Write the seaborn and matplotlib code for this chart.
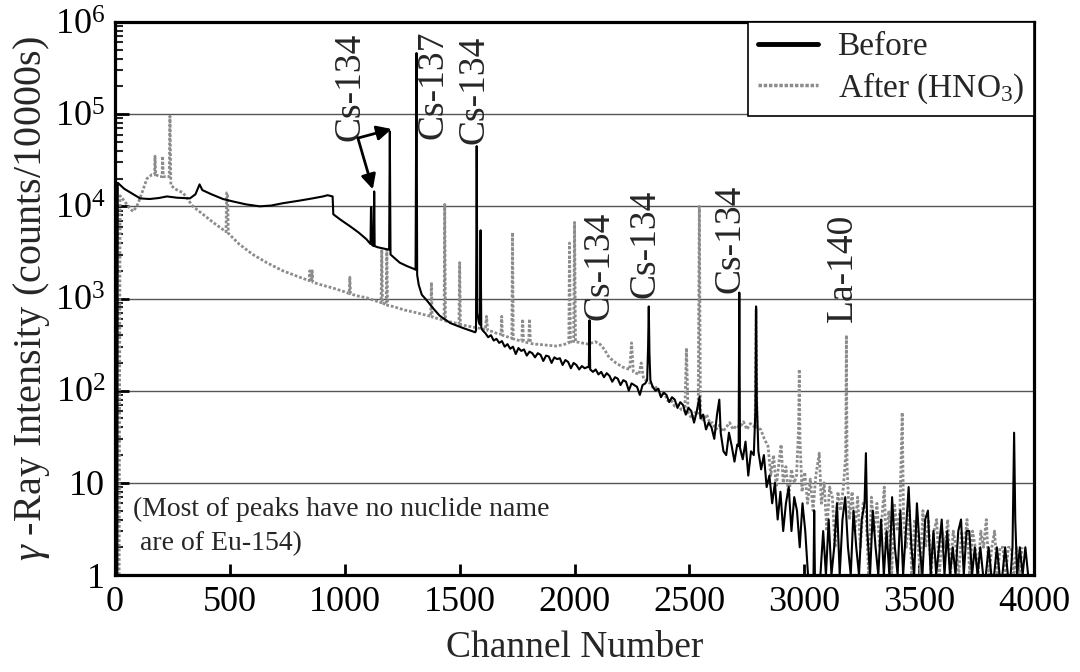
import matplotlib
matplotlib.use("Agg")
import numpy as np
import pandas as pd
import matplotlib.pyplot as plt
import seaborn as sns
from matplotlib.lines import Line2D
from matplotlib.ticker import FixedLocator, LogLocator, NullFormatter

# ---------------------------------------------------------------------------
# Gamma-ray spectra (channel, counts per 10000 s)
# ---------------------------------------------------------------------------
before_low = [
    (4, 1), (10, 1), (12, 18000), (40, 15500), (80, 13500), (109, 12200), (150, 12000), (190, 12300), (226, 12800), (270, 12400),
    (326, 12200), (350, 13500), (368, 17300), (380, 15000), (420, 13500), (470, 12000), (513, 11300), (570, 10500), (630, 10000), (680, 10200),
    (730, 10800), (800, 11500), (860, 12200), (905, 12800), (925, 13200), (947, 12800), (950, 8200), (980, 7200), (1022, 6100), (1060, 5200),
    (1094, 4400), (1112, 3900), (1114, 9800), (1116, 9800), (1119, 3800), (1126, 3700), (1128, 14500), (1130, 3700), (1143, 3600),
    (1188, 3400), (1193, 3400), (1196, 65000), (1199, 3000), (1209, 2850), (1239, 2450), (1270, 2250), (1300, 2100), (1308, 2050), (1312, 460000),
    (1315, 1800), (1322, 1400), (1335, 1100), (1356, 960), (1385, 780), (1413, 650), (1460, 540), (1513, 480), (1557, 440), (1568, 430),
    (1571, 450), (1574, 45000), (1577, 700), (1583, 560), (1588, 520), (1591, 5500), (1594, 480), (1600, 450),
]

before_mid = [
    (1612, 420), (1624, 380), (1636, 400), (1648, 350), (1660, 365), (1672, 330), (1684, 345), (1696, 300), (1708, 320), (1720, 285),
    (1732, 300), (1744, 250), (1756, 290), (1768, 270), (1780, 280), (1792, 240), (1804, 265), (1816, 255), (1828, 230), (1840, 255),
    (1852, 245), (1864, 210), (1876, 240), (1888, 235), (1900, 200), (1912, 230), (1924, 220), (1936, 225), (1948, 190), (1960, 215),
    (1972, 205), (1984, 175), (1996, 200), (2008, 190), (2020, 170), (2032, 185), (2044, 175), (2056, 180), (2062, 180), (2065, 580),
    (2068, 170), (2080, 160), (2092, 170), (2104, 150), (2116, 160), (2128, 140), (2140, 155), (2152, 145), (2164, 125), (2176, 140),
    (2188, 135), (2200, 115), (2212, 130), (2224, 125), (2236, 100), (2248, 120), (2260, 115), (2272, 110), (2284, 90), (2296, 115),
    (2308, 120), (2316, 130), (2320, 300), (2323, 820), (2326, 250), (2330, 130), (2340, 110), (2352, 100), (2364, 105), (2376, 85),
    (2388, 95), (2400, 90), (2412, 75), (2424, 85), (2436, 80), (2448, 65), (2460, 75), (2472, 70), (2484, 55), (2496, 65),
    (2508, 60), (2520, 45), (2532, 60), (2544, 86), (2548, 50), (2560, 55), (2572, 38), (2584, 45), (2596, 40), (2608, 30),
    (2620, 55), (2630, 80), (2636, 35), (2648, 22), (2660, 20), (2672, 35), (2684, 25), (2696, 17), (2708, 26), (2714, 25),
    (2717, 1160), (2720, 24), (2732, 18), (2744, 28), (2756, 12), (2768, 22), (2780, 20), (2787, 60), (2790, 820), (2793, 80),
    (2800, 22), (2812, 14), (2824, 20), (2836, 9),
]

before_tail = [
    (2848, 12), (2860, 6), (2872, 10), (2884, 4), (2896, 8), (2908, 3), (2920, 6), (2932, 9), (2944, 3), (2956, 7),
    (2968, 5), (2980, 2), (2992, 6), (3004, 3), (3016, 1), (3028, 1), (3040, 1), (3043, 5), (3046, 1), (3058, 1),
    (3070, 1), (3082, 3), (3094, 1), (3106, 4), (3118, 1), (3130, 2), (3142, 6), (3154, 1), (3166, 4), (3178, 7),
    (3190, 2), (3202, 1), (3214, 5), (3226, 2), (3238, 1), (3250, 4), (3262, 6), (3268, 21), (3274, 3), (3286, 1),
    (3298, 5), (3310, 2), (3322, 1), (3334, 4), (3346, 1), (3358, 3), (3370, 1), (3382, 7), (3394, 2), (3406, 1),
    (3418, 5), (3430, 1), (3442, 3), (3454, 9), (3466, 2), (3478, 1), (3490, 6), (3502, 2), (3514, 1), (3526, 4),
    (3538, 5), (3550, 1), (3562, 3), (3574, 1), (3586, 2), (3598, 4), (3610, 1), (3622, 3), (3634, 1), (3646, 2),
    (3658, 1), (3670, 3), (3682, 4), (3694, 1), (3706, 3), (3718, 3), (3730, 1), (3742, 2), (3754, 1), (3766, 2),
    (3778, 1), (3790, 1), (3802, 2), (3814, 1), (3826, 1), (3838, 2), (3850, 1), (3862, 1), (3874, 2), (3886, 1),
    (3898, 1), (3906, 2), (3913, 35), (3918, 4), (3926, 1), (3938, 2), (3950, 1), (3962, 2), (3974, 1), (3986, 1),
]

after_low = [
    (18, 1), (22, 13000), (40, 11500), (60, 9800), (78, 8800), (95, 10000), (115, 13500), (139, 20000), (160, 22000), (172, 22000),
    (174, 35000), (177, 22000), (196, 21000), (205, 21000), (207, 35000), (210, 21000), (226, 21000), (236, 21000), (239, 95000), (243, 17000),
    (260, 15500), (296, 14000), (339, 10000), (380, 8300), (430, 6600), (483, 5300), (486, 14000), (490, 14000), (493, 5100), (540, 3900),
    (600, 3000), (660, 2450), (730, 2000), (804, 1700), (845, 1560), (848, 2000), (851, 1540), (855, 1530), (858, 2000), (861, 1500),
    (900, 1400), (948, 1300), (1000, 1180), (1019, 1130), (1022, 1700), (1025, 1120), (1060, 1060), (1094, 1020), (1130, 950), (1158, 900),
    (1161, 3400), (1164, 890), (1180, 860), (1183, 3400), (1186, 840), (1209, 820), (1260, 750), (1313, 700), (1374, 640), (1377, 1500),
    (1380, 630), (1432, 580), (1435, 10500), (1438, 570), (1470, 550), (1497, 530), (1500, 2450), (1503, 520), (1557, 490), (1600, 470),
]

after_mid = [
    (1612, 460), (1617, 640), (1622, 450), (1640, 440), (1660, 420), (1680, 410), (1683, 640), (1686, 400), (1700, 390), (1720, 375),
    (1727, 370), (1730, 5200), (1733, 365), (1750, 355), (1770, 345), (1774, 600), (1778, 340), (1800, 330), (1804, 600), (1808, 325),
    (1830, 320), (1860, 315), (1890, 310), (1920, 305), (1950, 315), (1975, 330), (1978, 4000), (1982, 340), (1996, 330), (2000, 6700),
    (2004, 340), (2030, 330), (2060, 320), (2090, 340), (2110, 320), (2130, 280), (2150, 230), (2180, 200), (2210, 180), (2240, 170),
    (2248, 330), (2256, 160), (2280, 150), (2290, 200), (2300, 135), (2330, 120), (2345, 105), (2360, 110), (2375, 90), (2390, 95),
    (2405, 78), (2420, 80), (2435, 68), (2450, 70), (2465, 62), (2480, 60), (2487, 290), (2494, 58), (2510, 50), (2525, 58),
    (2538, 55), (2543, 10000), (2548, 52), (2560, 48), (2575, 55), (2590, 44), (2600, 45), (2615, 38), (2630, 42), (2645, 36),
    (2660, 40), (2675, 45), (2690, 38), (2705, 42), (2720, 40), (2735, 46), (2750, 38), (2765, 44), (2786, 40), (2790, 760),
    (2794, 40), (2810, 38), (2826, 30),
]

after_tail = [
    (2842, 25), (2854, 12), (2866, 20), (2878, 9), (2890, 17), (2899, 26), (2908, 10), (2920, 15), (2932, 7), (2944, 14),
    (2956, 10), (2966, 12), (2975, 40), (2978, 170), (2981, 30), (2990, 8), (3002, 13), (3014, 6), (3026, 11), (3038, 5),
    (3050, 12), (3065, 21), (3074, 6), (3086, 10), (3098, 3), (3110, 9), (3122, 7), (3134, 2), (3146, 8), (3158, 5),
    (3170, 9), (3180, 20), (3183, 400), (3186, 15), (3196, 4), (3208, 8), (3220, 3), (3232, 7), (3244, 2), (3256, 6),
    (3268, 5), (3280, 1), (3292, 7), (3304, 3), (3316, 6), (3328, 2), (3340, 5), (3348, 9), (3356, 2), (3368, 5),
    (3380, 1), (3392, 6), (3404, 3), (3416, 5), (3426, 58), (3432, 4), (3444, 2), (3456, 5), (3468, 1), (3480, 4),
    (3492, 3), (3504, 1), (3516, 5), (3528, 2), (3540, 4), (3552, 1), (3564, 3), (3576, 4), (3588, 1), (3600, 3),
    (3612, 2), (3624, 4), (3636, 1), (3648, 3), (3660, 2), (3672, 1), (3684, 3), (3696, 2), (3708, 4), (3720, 1),
    (3732, 3), (3744, 2), (3756, 1), (3768, 3), (3780, 2), (3792, 4), (3804, 1), (3816, 2), (3828, 3), (3840, 1),
    (3852, 2), (3864, 2), (3876, 1), (3888, 2), (3900, 2), (3912, 1), (3924, 2), (3936, 1), (3948, 2),
]

series_names = ["Before", "After (HNO$_3$)"]

# Nuclide labels: text, channel of label centre, counts at label base
peak_labels = ["Cs-134", "Cs-137", "Cs-134", "Cs-134", "Cs-134", "Cs-134", "La-140"]
peak_label_channel = [1022, 1383, 1565, 2109, 2309, 2678, 3165]
peak_label_counts = [51000, 54000, 47000, 590, 1020, 1160, 550]

# Arrows from the first Cs-134 label to its two peaks
arrow_start = (1057, 55000)
arrow_targets = [(1204, 69000), (1122, 15300)]

x_ticks = [0, 500, 1000, 1500, 2000, 2500, 3000, 3500, 4000]
y_ticks = [1, 10, 100, 1000, 10000, 100000, 1000000]
y_tick_labels = ["1", "10", "$10^{2}$", "$10^{3}$", "$10^{4}$", "$10^{5}$", "$10^{6}$"]


def spectrum_frame(segments, name):
    pts = [p for seg in segments for p in seg]
    return pd.DataFrame({
        "channel": [p[0] for p in pts],
        "counts": [p[1] for p in pts],
        "series": name,
    })


before_df = spectrum_frame([before_low, before_mid, before_tail], series_names[0])
after_df = spectrum_frame([after_low, after_mid, after_tail], series_names[1])

sns.set_style("white")
plt.rcParams["font.family"] = ["Liberation Serif", "DejaVu Serif"]
plt.rcParams["mathtext.fontset"] = "custom"
plt.rcParams["mathtext.rm"] = "Liberation Serif"
plt.rcParams["mathtext.it"] = "Liberation Serif:italic"
plt.rcParams["mathtext.bf"] = "Liberation Serif:bold"

fig = plt.figure(figsize=(10.8, 6.72), dpi=100)
ax = fig.add_axes([0.1065, 0.1443, 0.851, 0.823])

gray = "#8c8c8c"
dot_style = (0, (1.0, 0.7))

sns.lineplot(data=after_df, x="channel", y="counts", ax=ax, sort=False,
             estimator=None, color=gray, linewidth=2.0, linestyle=dot_style,
             legend=False, zorder=3)
sns.lineplot(data=before_df, x="channel", y="counts", ax=ax, sort=False,
             estimator=None, color="black", linewidth=1.5, legend=False,
             zorder=4)

ax.set_yscale("log")
ax.set_xlim(0, 4000)
ax.set_ylim(1, 1e6)

ax.xaxis.set_major_locator(FixedLocator(x_ticks))
ax.set_xticklabels([str(t) for t in x_ticks])
ax.yaxis.set_major_locator(FixedLocator(y_ticks))
ax.set_yticklabels(y_tick_labels)
ax.yaxis.set_minor_locator(LogLocator(base=10, subs=np.arange(2, 10), numticks=20))
ax.yaxis.set_minor_formatter(NullFormatter())

ax.tick_params(axis="x", which="major", direction="in", length=8, width=2,
               bottom=True, top=False, labelsize=26, pad=8, colors="black")
ax.tick_params(axis="y", which="major", direction="in", length=10, width=2,
               left=True, right=False, labelsize=26, pad=7, colors="black")
ax.tick_params(axis="y", which="minor", direction="in", length=6, width=1.5,
               left=True, right=False)

ax.yaxis.grid(True, which="major", color="#555555", linewidth=1.0, zorder=1)
ax.xaxis.grid(False)
ax.set_axisbelow(True)

for side in ["top", "bottom", "left", "right"]:
    ax.spines[side].set_visible(True)
    ax.spines[side].set_color("black")
    ax.spines[side].set_linewidth(2.3)
    ax.spines[side].set_zorder(6)

ax.set_xlabel("Channel Number", fontsize=27, labelpad=8)
ax.set_ylabel(r"$\gamma$ -Ray Intensity (counts/10000s)", fontsize=29, labelpad=2)

# Nuclide labels
for text, ch, cts in zip(peak_labels, peak_label_channel, peak_label_counts):
    ax.text(ch, cts, text, rotation=90, ha="center", va="bottom",
            fontsize=27, zorder=7)

for target in arrow_targets:
    ax.annotate("", xy=target, xytext=arrow_start,
                arrowprops=dict(arrowstyle="-|>", color="black", lw=2.0,
                                mutation_scale=22, shrinkA=0, shrinkB=0),
                zorder=7)

ax.text(78, 7.0, "(Most of peaks have no nuclide name\n are of Eu-154)",
        fontsize=20, ha="left", va="top", linespacing=1.45, zorder=7)

handles = [Line2D([], [], color="black", linewidth=3.5),
           Line2D([], [], color=gray, linewidth=2.5, linestyle=(0, (1.0, 0.5)))]
leg = ax.legend(handles, series_names, loc="upper right", fontsize=24,
                frameon=True, fancybox=False, edgecolor="black", framealpha=1,
                borderaxespad=0.0, handlelength=1.8, handletextpad=0.6,
                borderpad=0.3, labelspacing=0.25)
leg.get_frame().set_linewidth(1.2)
leg.set_zorder(8)

fig.savefig("out.png", dpi=100)
